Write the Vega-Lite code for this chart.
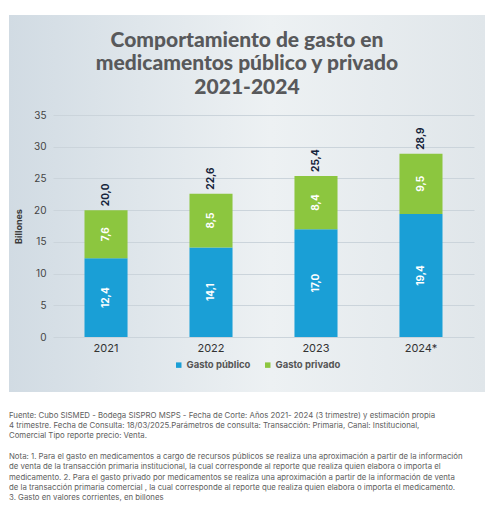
{
  "$schema": "https://vega.github.io/schema/vega-lite/v6.json",
  "padding": {"left": 9, "top": 15, "right": 0, "bottom": 0},
  "background": "#ffffff",
  "config": {
    "view": {"stroke": null},
    "font": "Inter",
    "locale": {"number": {"decimal": ",", "thousands": ".", "grouping": [3], "currency": ["$", ""]}}
  },
  "datasets": {
    "gasto": [
      {"year": "2021", "serie": "Gasto público", "value": 12.4},
      {"year": "2021", "serie": "Gasto privado", "value": 7.6},
      {"year": "2022", "serie": "Gasto público", "value": 14.1},
      {"year": "2022", "serie": "Gasto privado", "value": 8.5},
      {"year": "2023", "serie": "Gasto público", "value": 17.0},
      {"year": "2023", "serie": "Gasto privado", "value": 8.4},
      {"year": "2024*", "serie": "Gasto público", "value": 19.4},
      {"year": "2024*", "serie": "Gasto privado", "value": 9.5}
    ]
  },
  "title": {
    "text": [
      "Fuente: Cubo SISMED - Bodega SISPRO MSPS - Fecha de Corte: Años 2021- 2024 (3 trimestre) y estimación propia",
      "4 trimestre. Fecha de Consulta: 18/03/2025.Parámetros de consulta: Transacción: Primaria, Canal: Institucional,",
      "Comercial Tipo reporte precio: Venta."
    ],
    "subtitle": [
      "Nota: 1. Para el gasto en medicamentos a cargo de recursos públicos se realiza una aproximación a partir de la información",
      "de venta de la transacción primaria institucional, la cual corresponde al reporte que realiza quien elabora o importa el",
      "medicamento. 2. Para el gasto privado por medicamentos se realiza una aproximación a partir de la información de venta",
      "de la transacción primaria comercial , la cual corresponde al reporte que realiza quien elabora o importa el medicamento.",
      "3. Gasto en valores corrientes, en billones"
    ],
    "orient": "bottom",
    "anchor": "start",
    "font": "Inter",
    "fontSize": 7.8,
    "fontWeight": "normal",
    "lineHeight": 10.4,
    "color": "#606060",
    "subtitleFont": "Inter",
    "subtitleFontSize": 7.8,
    "subtitleFontWeight": "normal",
    "subtitleLineHeight": 10.4,
    "subtitleColor": "#606060",
    "subtitlePadding": 12.8,
    "offset": 19.5
  },
  "vconcat": [
    {
      "width": 476,
      "height": 377,
      "view": {
        "stroke": null,
        "fill": {
          "gradient": "linear",
          "x1": 0, "y1": 0, "x2": 1, "y2": 0,
          "stops": [
            {"offset": 0, "color": "#d1dbe3"},
            {"offset": 0.55, "color": "#edf1f3"},
            {"offset": 1, "color": "#e0e6ea"}
          ]
        }
      },
      "title": {
        "text": ["Comportamiento de gasto en", "medicamentos público y privado", "2021-2024"],
        "font": "Lato",
        "fontSize": 21,
        "fontWeight": 900,
        "lineHeight": 23.5,
        "color": "#58595b",
        "anchor": "middle",
        "offset": -82.5
      },
      "layer": [
        {
          "data": {"name": "gasto"},
          "transform": [
            {"stack": "value", "groupby": ["year"], "sort": [{"field": "serie", "order": "descending"}], "as": ["v0", "v1"]}
          ],
          "mark": {"type": "bar"},
          "encoding": {
            "x": {
              "field": "year", "type": "nominal",
              "scale": {"range": [44, 465], "paddingInner": 0.59, "paddingOuter": 0.3},
              "axis": {"title": null, "labelAngle": 0, "offset": -55, "labelPadding": 5, "domain": false, "ticks": false, "labelFontSize": 11, "labelColor": "#333333", "grid": false}
            },
            "y": {
              "field": "v0", "type": "quantitative",
              "scale": {"domain": [0, 35], "range": [322, 100], "nice": false},
              "axis": {
                "title": "Billones", "titleFontSize": 9, "titleFontWeight": "bold", "titleColor": "#3a3a3a",
                "titleX": -30, "titleY": 211,
                "offset": -44, "domain": false, "ticks": false, "labelPadding": 7,
                "labelFontSize": 10, "labelColor": "#444444", "gridColor": "#cbd4db",
                "values": [0, 5, 10, 15, 20, 25, 30, 35]
              }
            },
            "y2": {"field": "v1"},
            "color": {
              "field": "serie", "type": "nominal",
              "scale": {"domain": ["Gasto público", "Gasto privado"], "range": ["#1a9fd6", "#8cc63f"]},
              "legend": {
                "orient": "none", "legendX": 165, "legendY": 345, "direction": "horizontal",
                "title": null, "symbolType": "square", "symbolSize": 30, "symbolStrokeWidth": 0,
                "labelFontSize": 9.5, "labelFontWeight": "bold", "labelColor": "#555555",
                "columnPadding": 12, "labelOffset": 3, "padding": 0
              }
            }
          }
        },
        {
          "data": {"name": "gasto"},
          "transform": [
            {"stack": "value", "groupby": ["year"], "sort": [{"field": "serie", "order": "descending"}], "as": ["v0", "v1"]},
            {"fold": ["v0", "v1"], "as": ["edge", "pos"]},
            {"aggregate": [{"op": "mean", "field": "pos", "as": "mid"}], "groupby": ["year", "serie", "value"]}
          ],
          "mark": {"type": "text", "angle": 270, "color": "#ffffff", "fontWeight": "bold", "fontSize": 10, "baseline": "middle", "align": "center"},
          "encoding": {
            "x": {"field": "year", "type": "nominal"},
            "y": {"field": "mid", "type": "quantitative"},
            "text": {"field": "value", "type": "quantitative", "format": ".1f"}
          }
        },
        {
          "data": {"name": "gasto"},
          "transform": [
            {"aggregate": [{"op": "sum", "field": "value", "as": "total"}], "groupby": ["year"]}
          ],
          "mark": {"type": "text", "angle": 270, "align": "left", "baseline": "middle", "dx": 4, "fontWeight": "bold", "fontSize": 10, "color": "#15233a"},
          "encoding": {
            "x": {"field": "year", "type": "nominal"},
            "y": {"field": "total", "type": "quantitative"},
            "text": {"field": "total", "type": "quantitative", "format": ".1f"}
          }
        }
      ]
    }
  ]
}
